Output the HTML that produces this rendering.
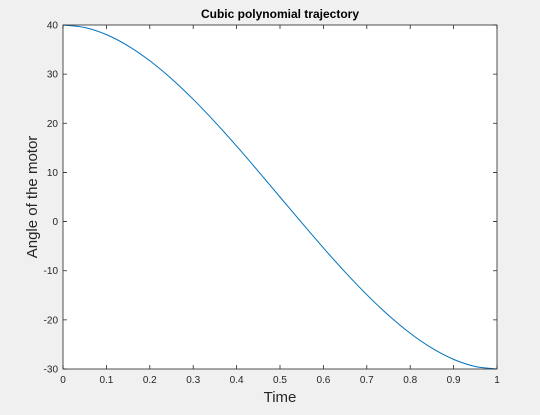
<!DOCTYPE html>
<html><head><meta charset="utf-8">
<style>
html,body{margin:0;padding:0;background:#f0f0f0;}
svg{display:block;font-family:"Liberation Sans",Helvetica,Arial,sans-serif;}
</style></head>
<body>
<svg id="chart" width="540" height="415">
  <rect x="0" y="0" width="540" height="415" fill="#f0f0f0"/>
  <rect x="63" y="25" width="434" height="344" fill="#ffffff"/>
  <g id="ticks"></g>
  <path id="line" fill="none" stroke="#0072bd" stroke-width="1"/>
  <rect x="63" y="25" width="434" height="344" fill="none" stroke="#262626" stroke-width="0.8"/>
  <text x="280" y="18" text-anchor="middle" font-size="12" font-weight="bold" fill="#000">Cubic polynomial trajectory</text>
  <text x="280" y="402" text-anchor="middle" font-size="15" fill="#262626">Time</text>
  <text transform="translate(37,197) rotate(-90)" text-anchor="middle" font-size="15" fill="#262626">Angle of the motor</text>
</svg>
<script>
const times = [0,0.05,0.1,0.15,0.2,0.25,0.3,0.35,0.4,0.45,0.5,0.55,0.6,0.65,0.7,0.75,0.8,0.85,0.9,0.95,1];
const angles = [40,39.49,38.04,35.75,32.72,29.06,24.88,20.28,15.36,10.23,5,-0.23,-5.36,-10.28,-14.88,-19.06,-22.72,-25.75,-28.04,-29.49,-30];
const xTicks = [0,0.1,0.2,0.3,0.4,0.5,0.6,0.7,0.8,0.9,1];
const xTickLabels = ["0","0.1","0.2","0.3","0.4","0.5","0.6","0.7","0.8","0.9","1"];
const yTicks = [-30,-20,-10,0,10,20,30,40];
const yTickLabels = ["-30","-20","-10","0","10","20","30","40"];

const L=63,R=497,T=25,B=369;
function xs(v){return L+(v-0)/(1-0)*(R-L);}
function ys(v){return B-(v+30)/70*(B-T);}
const NS="http://www.w3.org/2000/svg";
const g=document.getElementById('ticks');
xTicks.forEach((v,i)=>{
  const x=xs(v);
  const t1=document.createElementNS(NS,'path');
  t1.setAttribute('d',`M${x},${B}V${B-4}M${x},${T}V${T+4}`);
  t1.setAttribute('stroke','#262626');t1.setAttribute('stroke-width','0.8');
  
  
  g.appendChild(t1);
  const tx=document.createElementNS(NS,'text');
  tx.setAttribute('x',x);tx.setAttribute('y',B+14);
  tx.setAttribute('text-anchor','middle');tx.setAttribute('font-size','10');tx.setAttribute('fill','#262626');
  tx.textContent=xTickLabels[i];
  
  
  g.appendChild(tx);
});
yTicks.forEach((v,i)=>{
  const y=ys(v);
  const t1=document.createElementNS(NS,'path');
  t1.setAttribute('d',`M${L},${y}H${L+4}M${R},${y}H${R-4}`);
  t1.setAttribute('stroke','#262626');t1.setAttribute('stroke-width','0.8');
  
  
  g.appendChild(t1);
  const tx=document.createElementNS(NS,'text');
  tx.setAttribute('x',L-5);tx.setAttribute('y',y+3.5);
  tx.setAttribute('text-anchor','end');tx.setAttribute('font-size','10');tx.setAttribute('fill','#262626');
  tx.textContent=yTickLabels[i];
  
  
  g.appendChild(tx);
});
// smooth path through points (Catmull-Rom)
const pts=times.map((t,i)=>[xs(t),ys(angles[i])]);
let d=`M${pts[0][0]},${pts[0][1]}`;
for(let i=0;i<pts.length-1;i++){
  const p0=pts[Math.max(i-1,0)],p1=pts[i],p2=pts[i+1],p3=pts[Math.min(i+2,pts.length-1)];
  const c1=[p1[0]+(p2[0]-p0[0])/6,p1[1]+(p2[1]-p0[1])/6];
  const c2=[p2[0]-(p3[0]-p1[0])/6,p2[1]-(p3[1]-p1[1])/6];
  d+=`C${c1[0]},${c1[1]} ${c2[0]},${c2[1]} ${p2[0]},${p2[1]}`;
}
document.getElementById('line').setAttribute('d',d);
</script>
</body></html>
